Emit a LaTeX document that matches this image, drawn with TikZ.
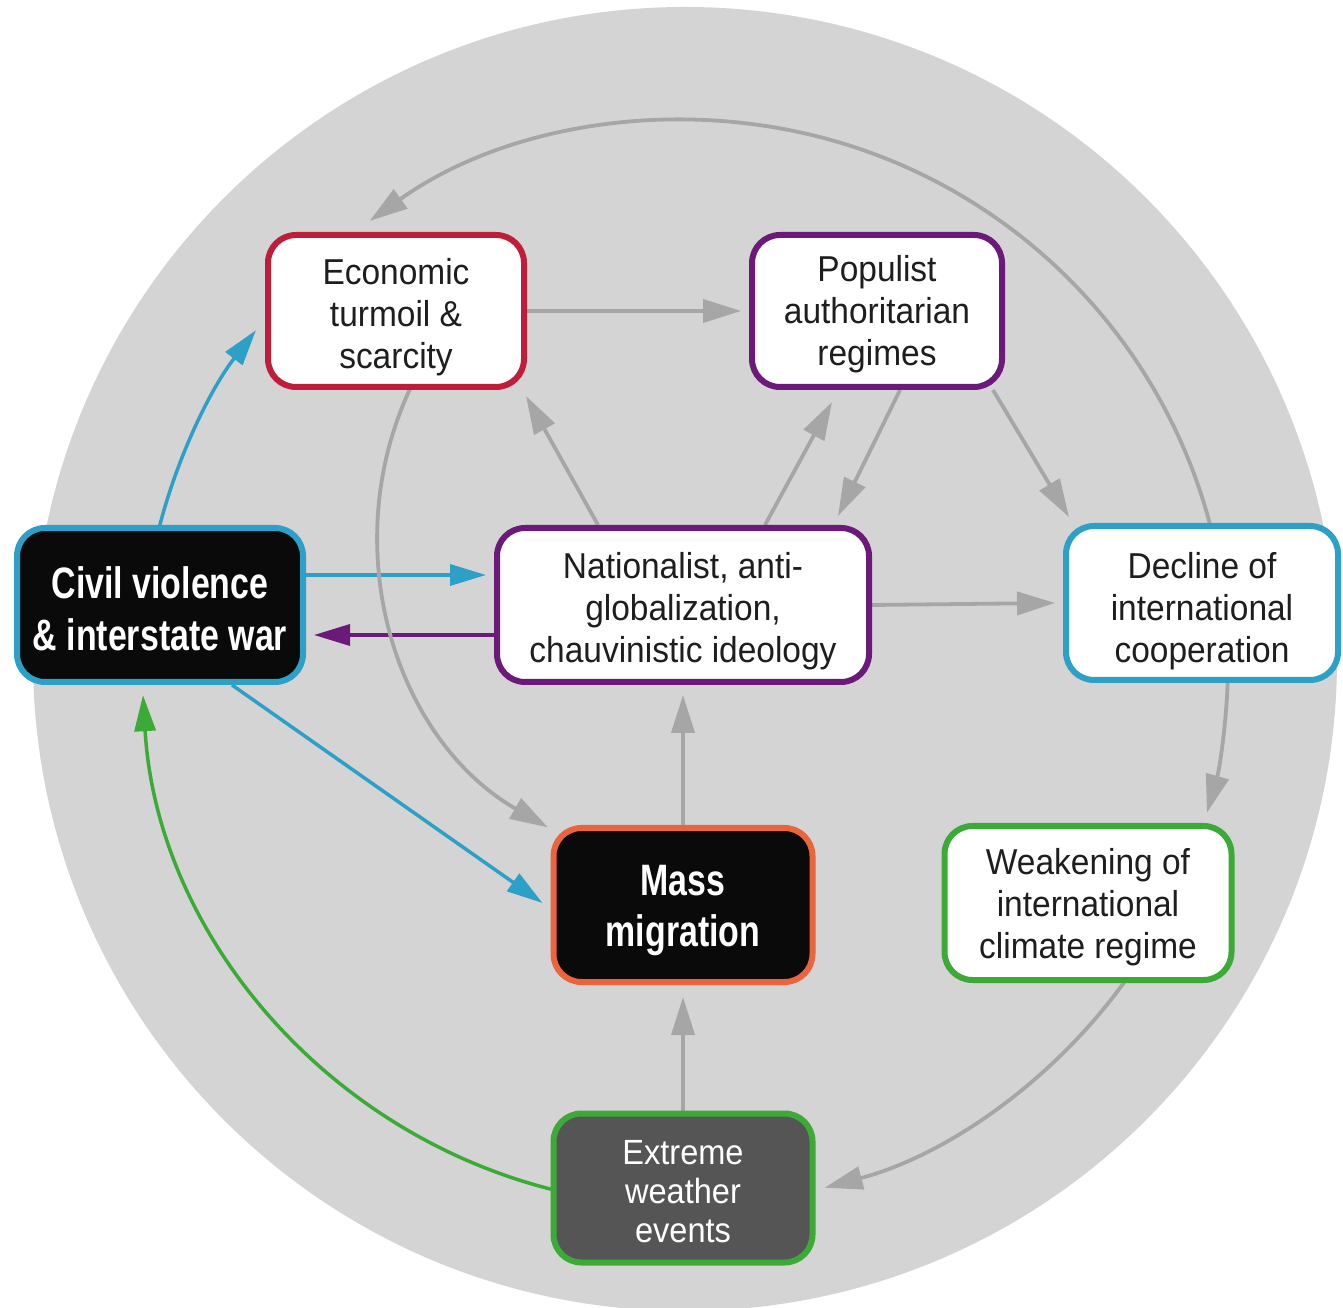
\documentclass[tikz,border=0pt]{standalone}
\usepackage{fontspec}
\setmainfont{Liberation Sans}
\newfontfamily\regfont[FakeStretch=0.93]{Liberation Sans}
\newfontfamily\boldfont[FakeStretch=0.77]{Liberation Sans}
\usetikzlibrary{arrows.meta,calc}
\definecolor{bgc}{RGB}{212,212,212}
\definecolor{arrg}{RGB}{166,166,166}
\definecolor{cred}{RGB}{190,30,58}
\definecolor{cpur}{RGB}{108,26,122}
\definecolor{cblu}{RGB}{45,160,200}
\definecolor{cora}{RGB}{234,100,60}
\definecolor{cgrn}{RGB}{60,170,55}
\definecolor{extf}{RGB}{85,85,85}
\definecolor{blk}{RGB}{10,10,10}
\definecolor{txt}{RGB}{30,30,30}
\newcommand\tstrut[1]{\rule{0pt}{#1pt}}
\pgfdeclarelayer{back}
\pgfdeclarelayer{mid}
\pgfsetlayers{back,mid,main}
\tikzset{
  box/.style={rounded corners=28pt, line width=6pt, inner sep=0pt, align=center,
    fill=white, text=txt, font=\regfont\fontsize{36}{42}\selectfont},
  darkbox/.style={box, fill=blk, text=white, font=\boldfont\bfseries\fontsize{44}{52}\selectfont},
  extbox/.style={box, fill=extf, text=white, font=\regfont\fontsize{35}{39}\selectfont},
  garr/.style={draw=arrg, line width=3.8pt, -{Triangle[length=38pt,width=23pt]}},
  barr/.style={draw=cblu, line width=3.5pt, -{Triangle[length=36pt,width=21pt]}},
  parr/.style={draw=cpur, line width=3.5pt, -{Triangle[length=36pt,width=21pt]}},
  grarr/.style={draw=cgrn, line width=3.5pt, -{Triangle[length=36pt,width=21pt]}}
}
\begin{document}
\begin{tikzpicture}[x=1pt,y=1pt]
\useasboundingbox (0,0) rectangle (1343,1307);
\begin{pgfonlayer}{back}
  \fill[white] (0,0) rectangle (1343,1307);
  \fill[bgc] (685,648) circle (652pt);
\end{pgfonlayer}
\coordinate (C) at (685,644);
\coordinate (C2) at (718,774);

\node[box, draw=cred, minimum width=256pt, minimum height=152pt] (econ) at (396,996)
  {\tstrut{38}Economic\\turmoil \&\\scarcity};
\node[box, draw=cpur, minimum width=250pt, minimum height=152pt] (pop) at (877,996)
  {\tstrut{33}Populist\\authoritarian\\regimes};
\node[darkbox, draw=cblu, minimum width=286pt, minimum height=154pt] (civil) at (160,702)
  {\tstrut{40}Civil violence\\\& interstate war};
\node[box, draw=cpur, minimum width=372pt, minimum height=154pt] (nat) at (683,702)
  {\tstrut{38}Nationalist, anti-\\globalization,\\chauvinistic ideology};
\node[box, draw=cblu, minimum width=272pt, minimum height=154pt] (decl) at (1202,704)
  {\tstrut{42}Decline of\\international\\cooperation};
\node[darkbox, draw=cora, minimum width=259pt, minimum height=154pt, font=\boldfont\bfseries\fontsize{44}{51}\selectfont] (mass) at (683,402)
  {\tstrut{41}Mass\\migration};
\node[box, draw=cgrn, minimum width=287pt, minimum height=154pt] (weak) at (1088,404)
  {\tstrut{34}Weakening of\\international\\climate regime};
\node[extbox, draw=cgrn, minimum width=259pt, minimum height=149pt] (ext) at (683,119)
  {\tstrut{31}Extreme\\weather\\events};

\begin{pgfonlayer}{mid}
  % straight grey connectors
  \draw[garr] (econ.east) -- ([xshift=-8pt]pop.west);
  \draw[garr] ([xshift=-85pt]nat.north) -- ([shift={(-1pt,-6pt)}]econ.south east);
  \draw[garr] ([xshift=82pt]nat.north) -- ([shift={(-45pt,-12pt)}]pop.south);
  \draw[garr] ([xshift=23pt]pop.south) -- ([shift={(155pt,9pt)}]nat.north);
  \draw[garr] ([xshift=-12pt]pop.south east) -- ([shift={(6pt,6pt)}]decl.north west);
  \draw[garr] (nat.east) -- ([xshift=-8pt]decl.west);
  \draw[garr] (mass.north) -- ([yshift=-10pt]nat.south);
  \draw[garr] (ext.north) -- ([yshift=-12pt]mass.south);
  % coloured straight connectors
  \draw[barr] ([yshift=30pt]civil.east) -- ([shift={(-8pt,30pt)}]nat.west);
  \draw[parr] ([yshift=-30pt]nat.west) -- ([shift={(8pt,-30pt)}]civil.east);
  \draw[barr] ([xshift=72pt]civil.south) -- ([shift={(-8pt,2pt)}]mass.west);
  % outer ring arcs
  \draw[garr] ([shift={(14.6:543pt)}]C) arc[start angle=14.6, end angle=125.5, radius=543pt];
  \draw[garr] ([shift={(-1.8:543pt)}]C) arc[start angle=-1.8, end angle=-16, radius=543pt];
  \draw[garr] ([shift={(-35.7:543pt)}]C) arc[start angle=-35.7, end angle=-75.1, radius=543pt];
  \draw[grarr] ([shift={(-104.07:543pt)}]C) arc[start angle=-104.07, end angle=-176.6, radius=543pt];
  \draw[barr] ([shift={(165.6:543pt)}]C) arc[start angle=165.6, end angle=142.2, radius=543pt];
  % inner arc
  \draw[garr] ([shift={(154.6:340pt)}]C2) arc[start angle=154.6, end angle=240, radius=340pt];
\end{pgfonlayer}
\end{tikzpicture}
\end{document}
